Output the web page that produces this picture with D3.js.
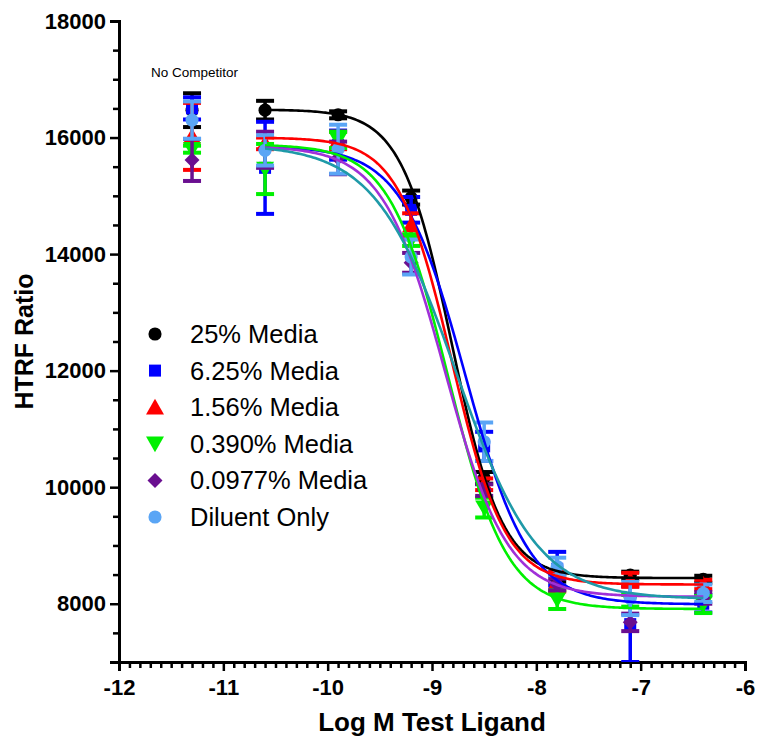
<!DOCTYPE html>
<html>
<head>
<meta charset="utf-8">
<script src="https://cdn.jsdelivr.net/npm/d3@7"></script>
<style>
  html, body { margin: 0; padding: 0; background: #ffffff; }
  svg { display: block; }
  text { font-family: "Liberation Sans", Arial, sans-serif; }
</style>
</head>
<body>
<svg id="chart" width="762" height="737"></svg>
<script>
// Log concentration of test ligand (first column is the no-competitor control)
const logConc = [-11.3, -10.6, -9.9, -9.2, -8.5, -7.8, -7.1, -6.4];

const seriesNames = ["25% Media", "6.25% Media", "1.56% Media", "0.390% Media", "0.0977% Media", "Diluent Only"];

// Mean HTRF ratio per series
const media25    = [16470, 16470, 16390, 14970, 10160, 8440, 8490, 8420];
const media625   = [16500, 15480, 15870, 14760, 10700, 8600, 7650, 8000];
const media156   = [16020, 15900, 15950, 14500, 10050, 8380, 8410, 8330];
const media0390  = [15800, 15460, 15960, 14240,  9650, 8070, 8050, 7990];
const media00977 = [15615, 15790, 15650, 13850,  9950, 8330, 7680, 8100];
const diluent    = [16300, 15780, 15800, 13950, 10780, 8640, 8090, 8180];

// Error (± SEM) per series
const err25    = [290, 160,  60, 120, 100,  60,  60,  60];
const err625   = [190, 790, 250, 220, 250, 290, 650, 150];
const err156   = [575, 100, 150, 200, 100, 170, 120,  80];
const err0390  = [ 60, 430, 140, 100, 170, 160, 100, 150];
const err00977 = [360, 310, 280, 170, 100, 100, 150, 100];
const errDil   = [320, 260, 420, 300, 330, 150, 285, 150];

// Four-parameter logistic fit per series: top, bottom, logIC50, Hill slope
const fitTop     = [16480, 15850, 16000, 15880, 15850, 15880];
const fitBottom  = [ 8440,  7990,  8330,  7910,  8120,  8080];
const fitLogIC50 = [-8.81, -8.68, -8.81, -8.845, -8.875, -8.77];
const fitHill    = [ 1.80,  1.43,  1.70,  1.55,  1.46,  1.12];

const means = [media25, media625, media156, media0390, media00977, diluent];
const errs  = [err25, err625, err156, err0390, err00977, errDil];

const markerColors = ["#000000", "#0000ff", "#ff0000", "#00f000", "#6a0f90", "#5aa5f5"];
const curveColors  = ["#000000", "#0000ff", "#ff0000", "#00f000", "#a030d8", "#1f9aa8"];
const shapes = ["circle", "square", "triangleUp", "triangleDown", "diamond", "circle"];

const xTicks = [-12, -11, -10, -9, -8, -7, -6];
const yTicks = [8000, 10000, 12000, 14000, 16000, 18000];

const svg = d3.select("#chart");

const x = d3.scaleLinear().domain([-12, -6]).range([119, 745]);
const y = d3.scaleLinear().domain([7000, 18000]).range([662, 21]);

function symbolPath(shape) {
  const sym = d3.symbol();
  if (shape === "circle") return sym.type(d3.symbolCircle).size(135)();
  if (shape === "square") return sym.type(d3.symbolSquare).size(144)();
  if (shape === "triangleUp" || shape === "triangleDown") return sym.type(d3.symbolTriangle).size(140)();
  if (shape === "diamond") return sym.type(d3.symbolSquare).size(112)();
  return sym();
}
function symbolRotate(shape) {
  if (shape === "triangleDown") return 180;
  if (shape === "diamond") return 45;
  return 0;
}
function symbolShift(shape) {
  if (shape === "triangleUp") return 2;
  if (shape === "triangleDown") return -2;
  return 0;
}

// Plain hyphen-minus for negative tick labels
const plainNumber = d => String(d);

// Axes
const axisG = svg.append("g");

const yAxis = d3.axisLeft(y).tickValues(yTicks).tickSize(9).tickFormat(plainNumber);
const yMinor = d3.axisLeft(y).tickValues(d3.range(7500, 18000, 500).filter(v => v % 2000 !== 0)).tickSize(6).tickFormat("");
const xAxis = d3.axisBottom(x).tickValues(xTicks).tickSize(9).tickFormat(plainNumber);
const xMinor = d3.axisBottom(x).tickValues(d3.range(0, 61).map(i => -12 + i * 0.1).filter((v, i) => i % 10 !== 0)).tickSize(6).tickFormat("");

function styleAxis(g) {
  g.select(".domain").attr("stroke", "#000").attr("stroke-width", 3);
  g.selectAll(".tick line").attr("stroke", "#000").attr("stroke-width", 2.5);
  g.selectAll(".tick text")
    .attr("fill", "#000")
    .style("font-family", "'Liberation Sans', Arial, sans-serif")
    .style("font-weight", "bold")
    .style("font-size", "22px");
}

axisG.append("g").attr("transform", "translate(119,0)").call(yMinor).call(styleAxis);
axisG.append("g").attr("transform", "translate(119,0)").call(yAxis).call(styleAxis)
  .selectAll(".tick text").attr("x", -13);
axisG.append("g").attr("transform", "translate(0,662)").call(xMinor).call(styleAxis);
axisG.append("g").attr("transform", "translate(0,662)").call(xAxis).call(styleAxis)
  .selectAll(".tick text").attr("y", 17);

// Axis titles
svg.append("text")
  .attr("x", x(-9))
  .attr("y", 731)
  .attr("text-anchor", "middle")
  .style("font-weight", "bold")
  .style("font-size", "26px")
  .text("Log M Test Ligand");

svg.append("text")
  .attr("transform", `translate(33,${y(12500)}) rotate(-90)`)
  .attr("text-anchor", "middle")
  .style("font-weight", "bold")
  .style("font-size", "25px")
  .text("HTRF Ratio");

svg.append("text")
  .attr("x", 151)
  .attr("y", 77)
  .style("font-size", "13.5px")
  .text("No Competitor");

// Clip error bars and marks to the plotting area
svg.append("clipPath").attr("id", "plotClip")
  .append("rect").attr("x", 119).attr("y", 0).attr("width", 643).attr("height", 662);

const dataG = svg.append("g").attr("clip-path", "url(#plotClip)");

// Points with error bars, drawn series by series
means.forEach((vals, s) => {
  const g = dataG.append("g");
  const rows = vals.map((v, i) => ({ lx: logConc[i], v: v, e: errs[s][i] }));
  const color = markerColors[s];
  g.selectAll("line.bar").data(rows).join("line")
    .attr("x1", d => x(d.lx)).attr("x2", d => x(d.lx))
    .attr("y1", d => y(d.v - d.e)).attr("y2", d => y(d.v + d.e))
    .attr("stroke", color).attr("stroke-width", 3.5);
  ["hi", "lo"].forEach(side => {
    g.selectAll("line.cap-" + side).data(rows).join("line")
      .attr("x1", d => x(d.lx) - 9).attr("x2", d => x(d.lx) + 9)
      .attr("y1", d => y(side === "hi" ? d.v + d.e : d.v - d.e))
      .attr("y2", d => y(side === "hi" ? d.v + d.e : d.v - d.e))
      .attr("stroke", color).attr("stroke-width", 4);
  });
  g.selectAll("path.pt").data(rows).join("path")
    .attr("d", symbolPath(shapes[s]))
    .attr("transform", d => `translate(${x(d.lx)},${y(d.v) + symbolShift(shapes[s])}) rotate(${symbolRotate(shapes[s])})`)
    .attr("fill", color);
});

// Fitted dose-response curves
const curveX = d3.range(0, 211).map(i => -10.6 + i * 0.02);
const line = d3.line().x(d => x(d[0])).y(d => y(d[1])).curve(d3.curveLinear);
seriesNames.forEach((name, s) => {
  const pts = curveX.map(lx => [lx, fitBottom[s] + (fitTop[s] - fitBottom[s]) / (1 + Math.pow(10, (lx - fitLogIC50[s]) * fitHill[s]))]);
  dataG.append("path")
    .datum(pts)
    .attr("d", line)
    .attr("fill", "none")
    .attr("stroke", curveColors[s])
    .attr("stroke-width", 2.6);
});

// Legend
const legend = svg.append("g");
seriesNames.forEach((name, s) => {
  const ly = 334 + s * 36.6;
  legend.append("path")
    .attr("d", symbolPath(shapes[s]))
    .attr("transform", `translate(155,${ly + symbolShift(shapes[s])}) rotate(${symbolRotate(shapes[s])})`)
    .attr("fill", markerColors[s]);
  legend.append("text")
    .attr("x", 190)
    .attr("y", ly + 9)
    .style("font-size", "25.5px")
    .text(name);
});
</script>
</body>
</html>
